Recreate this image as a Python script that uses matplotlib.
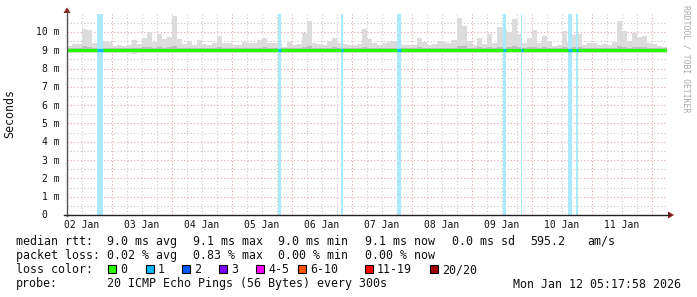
import numpy as np
import pandas as pd
import matplotlib
matplotlib.use("Agg")
import matplotlib.pyplot as plt
import matplotlib.dates as mdates
from matplotlib.patches import Rectangle, Polygon
from matplotlib.lines import Line2D

# --- Data (ms), 2-hour bins starting 2026-01-02 06:00 ---
t_start = "2026-01-02 06:00"
t_end = "2026-01-12 06:00"
bin_hours = 2

smoke_hi = [9.25, 9.34, 9.34, 10.15, 10.1, 9.4, 9.55, 9.5, 9.45, 9.25,
            9.3, 9.25, 9.3, 9.55, 9.35, 9.65, 9.98, 9.45, 9.9, 9.6,
            9.75, 10.87, 9.6, 9.35, 9.5, 9.3, 9.55, 9.35, 9.3, 9.4,
            9.78, 9.38, 9.38, 9.3, 9.3, 9.47, 9.38, 9.4, 9.56, 9.65,
            9.4, 9.38, 9.38, 9.2, 9.47, 9.29, 9.33, 9.96, 10.6, 9.38,
            9.35, 9.3, 9.5, 9.65, 9.38, 9.33, 9.29, 9.29, 9.33, 10.15,
            9.6, 9.38, 9.29, 9.4, 9.47, 9.5, 9.35, 9.29, 9.29, 9.29,
            9.65, 9.47, 9.29, 9.33, 9.5, 9.47, 9.38, 9.55, 10.75, 10.33,
            9.5, 9.3, 9.65, 9.33, 9.9, 9.38, 10.26, 10.1, 10.02, 10.7,
            9.9, 9.38, 9.65, 10.1, 9.4, 9.8, 9.5, 9.25, 9.3, 10.06,
            9.4, 9.85, 9.9, 9.3, 9.38, 9.4, 9.3, 9.35, 9.3, 9.47,
            10.62, 10.06, 9.5, 9.96, 9.7, 9.8, 9.4, 9.33, 9.25, 9.2]

smoke_lo = [8.84, 8.86, 8.85, 8.84, 8.83, 8.86, 8.85, 8.84, 8.86, 8.85,
            8.85, 8.84, 8.86, 8.82, 8.85, 8.84, 8.86, 8.85, 8.83, 8.85,
            8.84, 8.85, 8.86, 8.85, 8.84, 8.86, 8.85, 8.83, 8.85, 8.86,
            8.84, 8.85, 8.86, 8.84, 8.85, 8.83, 8.85, 8.86, 8.84, 8.85,
            8.86, 8.85, 8.84, 8.85, 8.86, 8.84, 8.85, 8.83, 8.84, 8.86,
            8.85, 8.86, 8.84, 8.85, 8.83, 8.85, 8.86, 8.84, 8.85, 8.84,
            8.86, 8.85, 8.84, 8.86, 8.85, 8.83, 8.85, 8.84, 8.86, 8.85,
            8.84, 8.85, 8.86, 8.84, 8.85, 8.83, 8.85, 8.86, 8.84, 8.85,
            8.86, 8.84, 8.85, 8.83, 8.85, 8.86, 8.84, 8.85, 8.84, 8.86,
            8.85, 8.84, 8.86, 8.85, 8.83, 8.85, 8.86, 8.84, 8.85, 8.84,
            8.86, 8.85, 8.84, 8.85, 8.86, 8.84, 8.85, 8.83, 8.85, 8.86,
            8.84, 8.85, 8.86, 8.84, 8.85, 8.86, 8.85, 8.84, 8.86, 8.85]

inner_hi = [9.12, 9.14, 9.12, 9.22, 9.2, 9.12, 9.15, 9.14, 9.13, 9.1,
            9.12, 9.1, 9.12, 9.15, 9.12, 9.16, 9.2, 9.13, 9.18, 9.15,
            9.16, 9.25, 9.15, 9.12, 9.14, 9.11, 9.15, 9.12, 9.11, 9.12,
            9.17, 9.12, 9.12, 9.11, 9.11, 9.14, 9.12, 9.12, 9.15, 9.16,
            9.12, 9.12, 9.12, 9.1, 9.14, 9.11, 9.12, 9.2, 9.24, 9.12,
            9.12, 9.11, 9.14, 9.16, 9.12, 9.11, 9.1, 9.11, 9.12, 9.2,
            9.15, 9.12, 9.11, 9.12, 9.14, 9.14, 9.12, 9.11, 9.1, 9.11,
            9.16, 9.14, 9.11, 9.12, 9.14, 9.14, 9.12, 9.15, 9.25, 9.22,
            9.14, 9.11, 9.16, 9.12, 9.18, 9.12, 9.2, 9.2, 9.2, 9.24,
            9.18, 9.12, 9.16, 9.2, 9.12, 9.17, 9.14, 9.1, 9.11, 9.2,
            9.12, 9.18, 9.18, 9.11, 9.12, 9.12, 9.11, 9.12, 9.11, 9.14,
            9.24, 9.2, 9.14, 9.2, 9.16, 9.17, 9.12, 9.12, 9.1, 9.1]

inner_lo = [8.92, 8.93, 8.91, 8.92, 8.9, 8.93, 8.92, 8.91, 8.93, 8.92,
            8.92, 8.91, 8.93, 8.9, 8.92, 8.91, 8.93, 8.92, 8.9, 8.92,
            8.91, 8.92, 8.93, 8.92, 8.91, 8.93, 8.92, 8.9, 8.92, 8.93,
            8.91, 8.92, 8.93, 8.91, 8.92, 8.9, 8.92, 8.93, 8.91, 8.92,
            8.93, 8.92, 8.91, 8.92, 8.93, 8.91, 8.92, 8.9, 8.91, 8.93,
            8.92, 8.93, 8.91, 8.92, 8.9, 8.92, 8.93, 8.91, 8.92, 8.91,
            8.93, 8.92, 8.91, 8.93, 8.92, 8.9, 8.92, 8.91, 8.93, 8.92,
            8.91, 8.92, 8.93, 8.91, 8.92, 8.9, 8.92, 8.93, 8.91, 8.92,
            8.93, 8.91, 8.92, 8.9, 8.92, 8.93, 8.91, 8.92, 8.91, 8.93,
            8.92, 8.91, 8.93, 8.92, 8.9, 8.92, 8.93, 8.91, 8.92, 8.91,
            8.93, 8.92, 8.91, 8.92, 8.93, 8.91, 8.92, 8.9, 8.92, 8.93,
            8.91, 8.92, 8.93, 8.91, 8.92, 8.93, 8.92, 8.91, 8.93, 8.92]

median = [9.01, 9.01, 9.0, 9.0, 9.0, 9.0, 9.01, 9.0, 9.0, 9.0,
          9.0, 9.0, 9.0, 8.99, 9.0, 9.0, 9.0, 9.0, 9.0, 9.0,
          9.0, 9.01, 9.0, 9.0, 9.0, 9.0, 9.0, 8.99, 9.0, 9.0,
          9.0, 9.0, 9.0, 9.0, 9.0, 9.0, 9.0, 9.0, 9.01, 9.0,
          9.0, 9.0, 9.0, 9.0, 9.0, 9.0, 9.0, 9.01, 9.01, 9.0,
          9.0, 9.0, 9.0, 9.0, 9.0, 9.0, 9.0, 9.0, 9.0, 9.01,
          9.0, 9.0, 9.0, 9.0, 9.0, 9.0, 9.0, 9.0, 9.0, 9.0,
          9.0, 9.0, 9.0, 9.0, 9.0, 8.99, 9.0, 9.0, 9.01, 9.01,
          9.0, 9.0, 9.0, 9.0, 9.0, 9.0, 9.01, 9.0, 9.0, 9.01,
          9.0, 9.0, 9.0, 9.01, 9.0, 9.0, 9.0, 9.0, 9.0, 9.0,
          9.0, 9.0, 9.0, 9.0, 9.0, 9.0, 9.0, 9.0, 9.0, 9.0,
          9.01, 9.0, 9.0, 9.0, 9.0, 9.0, 9.0, 9.0, 9.0, 9.0]

# packet loss events (1 of 20 lost)
loss_start = ["2026-01-02 18:07", "2026-01-05 18:24", "2026-01-06 19:36", "2026-01-07 18:10",
              "2026-01-09 12:24", "2026-01-09 19:24", "2026-01-10 14:24", "2026-01-10 17:36"]
loss_hours = [2.3, 1.2, 0.8, 1.3, 1.2, 0.8, 1.4, 0.8]
loss_median = [9.0, 9.0, 9.0, 9.0, 9.0, 9.0, 9.0, 9.0]

day_labels = ["02 Jan", "03 Jan", "04 Jan", "05 Jan", "06 Jan",
              "07 Jan", "08 Jan", "09 Jan", "10 Jan", "11 Jan"]
y_ticks = [0, 1, 2, 3, 4, 5, 6, 7, 8, 9, 10]

loss_names = ["0", "1", "2", "3", "4-5", "6-10", "11-19", "20/20"]
loss_colors = ["#26ff00", "#00b8ff", "#0059ff", "#7e00ff", "#ff00ff", "#ff5500", "#ff0000", "#a10000"]

# --- Figure ---
W, H = 697, 297
MONO = "DejaVu Sans Mono"
fig = plt.figure(figsize=(W / 100, H / 100), dpi=100, facecolor="white")

def fx(x):
    return x / W

def fy(y):
    return 1 - y / H

ax = fig.add_axes([fx(67), fy(215), (667 - 67) / W, (215 - 14) / H])
ax.set_facecolor("white")

t0 = pd.Timestamp(t_start)
edges = mdates.date2num([t0 + pd.Timedelta(hours=bin_hours * i) for i in range(len(smoke_hi) + 1)])

# grid
for d in pd.date_range("2026-01-02", "2026-01-12 06:00", freq="6h"):
    major = d.hour == 0
    ax.axvline(mdates.date2num(d), color="#e8a4a4" if major else "#c8c8c8",
               lw=0.8, ls=(0, (1, 2)), zorder=0)
for v in np.arange(0.5, 11, 0.5):
    major = float(v).is_integer()
    ax.axhline(v, color="#e8a4a4" if major else "#c8c8c8",
               lw=0.8, ls=(0, (1, 2)), zorder=0)

# smoke
ax.stairs(smoke_hi, edges, baseline=smoke_lo, fill=True, color="#dcdcdc", lw=0, zorder=1)
ax.stairs(inner_hi, edges, baseline=inner_lo, fill=True, color="#bdbdbd", lw=0, zorder=1.5)

# loss bars
for s, h in zip(loss_start, loss_hours):
    a = mdates.date2num(pd.Timestamp(s))
    b = mdates.date2num(pd.Timestamp(s) + pd.Timedelta(hours=h))
    ax.axvspan(a, b, color="#aae9ff", lw=0, zorder=2)

# median line
ax.stairs(median, edges, baseline=None, color="#26ff00", lw=2.3, zorder=3)
for s, h, m in zip(loss_start, loss_hours, loss_median):
    a = mdates.date2num(pd.Timestamp(s))
    b = mdates.date2num(pd.Timestamp(s) + pd.Timedelta(hours=h))
    ax.plot([a, b], [m, m], color="#00b8ff", lw=2.3, solid_capstyle="butt", zorder=4)

ax.set_xlim(mdates.date2num(pd.Timestamp(t_start)), mdates.date2num(pd.Timestamp(t_end)))
ax.set_ylim(0, 10.98)
ax.set_xticks([])
ax.set_yticks([])
for s in ax.spines.values():
    s.set_visible(False)

# tick labels
for v in y_ticks:
    lab = f"{v} m" if v else "0"
    dx = -7 if v else -20
    ax.annotate(lab, xy=(0, v), xycoords=("axes fraction", "data"),
                xytext=(dx, -3.5), textcoords="offset pixels",
                ha="right", va="baseline", family=MONO, fontsize=7, color="#111")
for i, lab in enumerate(day_labels):
    d = pd.Timestamp("2026-01-02 12:00") + pd.Timedelta(days=i)
    ax.annotate(lab, xy=(mdates.date2num(d), 0), xycoords=("data", "axes fraction"),
                xytext=(0, -13.5), textcoords="offset pixels",
                ha="center", va="baseline", family=MONO, fontsize=7, color="#111")

# axes lines and arrows
fig.add_artist(Line2D([fx(67), fx(67)], [fy(216), fy(12)], color="#555555", lw=1))
fig.add_artist(Line2D([fx(64), fx(669)], [fy(215), fy(215)], color="#222222", lw=1))
fig.add_artist(Polygon([(fx(67), fy(7.5)), (fx(63.5), fy(13)), (fx(70.5), fy(13))],
                       closed=True, color="#8b1a1a", lw=0))
fig.add_artist(Polygon([(fx(674), fy(215)), (fx(668), fy(211.5)), (fx(668), fy(218.5))],
                       closed=True, color="#8b1a1a", lw=0))

fig.text(fx(10), fy(114), "Seconds", rotation=90, ha="center", va="center",
         family=MONO, fontsize=8.4, color="#111")
fig.text(fx(686), fy(5), "RRDTOOL / TOBI OETIKER", rotation=270, ha="center", va="top",
         family=MONO, fontsize=5.9, color="#aaaaaa")

# legend text
def ftext(x, y, s, **kw):
    fig.text(fx(x), fy(y), s, ha="left", va="baseline", family=MONO,
             fontsize=8.4, color="#111", **kw)

ftext(16, 245, "median rtt:")
for x, s in zip([107, 193, 278, 365, 452, 530, 587],
                ["9.0 ms avg", "9.1 ms max", "9.0 ms min", "9.1 ms now", "0.0 ms sd", "595.2", "am/s"]):
    ftext(x, 245, s)

ftext(16, 259.3, "packet loss:")
for x, s in zip([107, 193, 278, 365],
                ["0.02 % avg", "0.83 % max", "0.00 % min", "0.00 % now"]):
    ftext(x, 259.3, s)

ftext(16, 273.3, "loss color:")
sq_x = [108, 146, 182, 219, 256, 298, 365, 430]
for x, name, col in zip(sq_x, loss_names, loss_colors):
    fig.add_artist(Rectangle((fx(x), fy(272.5)), 8 / W, 8 / H, facecolor=col,
                             edgecolor="#000000", lw=0.8))
    ftext(x + 12, 273.3, name)

ftext(16, 287.5, "probe:")
ftext(107, 287.5, "20 ICMP Echo Pings (56 Bytes) every 300s")
ftext(513, 287.5, "Mon Jan 12 05:17:58 2026")

fig.savefig("out.png", dpi=100, facecolor="white")
